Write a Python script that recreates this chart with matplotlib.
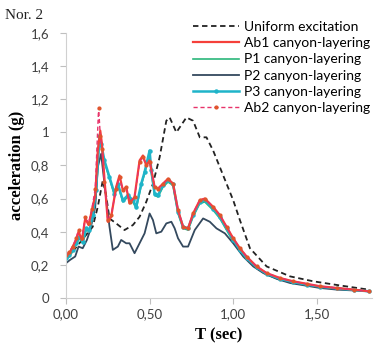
import matplotlib
matplotlib.use("Agg")
import matplotlib.pyplot as plt
from matplotlib.ticker import FixedLocator, FixedFormatter

# response spectra, period T (sec) vs spectral acceleration (g)
t_uniform = [0, 0.04, 0.08, 0.12, 0.16, 0.19, 0.22, 0.24, 0.26, 0.30, 0.35, 0.40, 0.44, 0.48,
             0.52, 0.56, 0.60, 0.62, 0.66, 0.70, 0.72, 0.76, 0.80, 0.84, 0.88, 0.92, 0.96,
             1.00, 1.04, 1.10, 1.20, 1.34, 1.48, 1.64, 1.81]
a_uniform = [0.25, 0.28, 0.33, 0.38, 0.43, 0.55, 0.71, 0.62, 0.48, 0.45, 0.41, 0.44, 0.49, 0.58,
             0.69, 0.85, 1.07, 1.09, 1.00, 1.06, 1.09, 1.07, 0.97, 0.97, 0.89, 0.79, 0.69,
             0.59, 0.47, 0.30, 0.19, 0.13, 0.10, 0.075, 0.05]

t_ab1 = [0, 0.02, 0.04, 0.06, 0.075, 0.095, 0.115, 0.135, 0.155, 0.175, 0.19, 0.205, 0.215,
         0.23, 0.25, 0.27, 0.30, 0.32, 0.34, 0.36, 0.38, 0.41, 0.44, 0.46, 0.48, 0.50, 0.53,
         0.55, 0.58, 0.61, 0.64, 0.67, 0.70, 0.73, 0.76, 0.80, 0.83, 0.88, 0.92, 0.96, 1.00,
         1.04, 1.08, 1.14, 1.20, 1.28, 1.36, 1.44, 1.52, 1.62, 1.72, 1.81]
a_ab1 = [0.26, 0.27, 0.31, 0.35, 0.40, 0.35, 0.48, 0.44, 0.53, 0.62, 0.89, 1.01, 0.93,
         0.72, 0.46, 0.49, 0.67, 0.74, 0.65, 0.67, 0.57, 0.61, 0.83, 0.86, 0.80, 0.83, 0.67,
         0.66, 0.69, 0.72, 0.69, 0.53, 0.43, 0.42, 0.51, 0.59, 0.60, 0.55, 0.50, 0.43, 0.36,
         0.30, 0.25, 0.19, 0.15, 0.12, 0.10, 0.085, 0.07, 0.06, 0.05, 0.04]

t_ab2 = [0, 0.02, 0.04, 0.06, 0.075, 0.095, 0.115, 0.135, 0.155, 0.175, 0.195, 0.205, 0.215,
         0.23, 0.25, 0.27, 0.30, 0.32, 0.34, 0.36, 0.38, 0.41, 0.44, 0.46, 0.48, 0.50, 0.53,
         0.55, 0.58, 0.61, 0.64, 0.67, 0.70, 0.73, 0.76, 0.80, 0.83, 0.88, 0.92, 0.96, 1.00,
         1.04, 1.08, 1.14, 1.20, 1.28, 1.36, 1.44, 1.52, 1.62, 1.72, 1.81]
a_ab2 = [0.26, 0.28, 0.31, 0.36, 0.41, 0.36, 0.49, 0.45, 0.54, 0.66, 1.15, 0.98, 0.90,
         0.70, 0.47, 0.50, 0.66, 0.73, 0.65, 0.67, 0.58, 0.61, 0.82, 0.85, 0.80, 0.82, 0.67,
         0.66, 0.69, 0.72, 0.69, 0.53, 0.43, 0.42, 0.51, 0.59, 0.60, 0.55, 0.50, 0.43, 0.36,
         0.30, 0.25, 0.19, 0.15, 0.12, 0.10, 0.085, 0.07, 0.06, 0.05, 0.04]

t_p = [0, 0.02, 0.04, 0.06, 0.08, 0.10, 0.12, 0.14, 0.16, 0.18, 0.20, 0.21, 0.23, 0.26,
       0.29, 0.31, 0.34, 0.37, 0.40, 0.42, 0.45, 0.47, 0.50, 0.51, 0.53, 0.55, 0.58, 0.61,
       0.64, 0.67, 0.70, 0.73, 0.76, 0.80, 0.83, 0.88, 0.92, 0.96, 1.00, 1.04, 1.08, 1.14,
       1.20, 1.28, 1.36, 1.44, 1.52, 1.62, 1.72, 1.81]
a_p1 = [0.23, 0.25, 0.28, 0.32, 0.36, 0.33, 0.41, 0.40, 0.49, 0.63, 0.95, 0.91, 0.82, 0.72,
        0.62, 0.68, 0.58, 0.61, 0.58, 0.54, 0.68, 0.75, 0.87, 0.76, 0.62, 0.61, 0.67, 0.70,
        0.68, 0.51, 0.42, 0.41, 0.49, 0.57, 0.58, 0.53, 0.48, 0.41, 0.34, 0.29, 0.24, 0.18,
        0.14, 0.11, 0.095, 0.08, 0.065, 0.055, 0.048, 0.04]
a_p3 = [0.24, 0.26, 0.29, 0.33, 0.37, 0.34, 0.42, 0.41, 0.50, 0.65, 0.98, 0.93, 0.83, 0.73,
        0.63, 0.69, 0.59, 0.62, 0.59, 0.55, 0.69, 0.76, 0.89, 0.77, 0.63, 0.62, 0.68, 0.71,
        0.69, 0.52, 0.43, 0.42, 0.50, 0.58, 0.59, 0.54, 0.49, 0.42, 0.35, 0.29, 0.24, 0.185,
        0.145, 0.115, 0.095, 0.08, 0.068, 0.057, 0.048, 0.04]

t_p2 = [0, 0.025, 0.055, 0.075, 0.10, 0.125, 0.145, 0.175, 0.19, 0.21, 0.23, 0.26, 0.28,
        0.31, 0.33, 0.36, 0.38, 0.41, 0.44, 0.47, 0.50, 0.52, 0.54, 0.57, 0.60, 0.63, 0.65,
        0.67, 0.70, 0.73, 0.77, 0.82, 0.86, 0.90, 0.95, 1.00, 1.06, 1.12, 1.18, 1.26, 1.34,
        1.43, 1.52, 1.62, 1.72, 1.81]
a_p2 = [0.21, 0.23, 0.25, 0.31, 0.30, 0.35, 0.41, 0.55, 0.79, 0.87, 0.69, 0.43, 0.29,
        0.31, 0.35, 0.33, 0.33, 0.27, 0.33, 0.39, 0.51, 0.47, 0.39, 0.40, 0.45, 0.46, 0.42,
        0.36, 0.31, 0.31, 0.41, 0.48, 0.46, 0.42, 0.39, 0.33, 0.25, 0.19, 0.15, 0.115, 0.09,
        0.075, 0.06, 0.05, 0.045, 0.04]

y_ticks = [0, 0.2, 0.4, 0.6, 0.8, 1.0, 1.2, 1.4, 1.6]
y_labels = ["0", "0,2", "0,4", "0,6", "0,8", "1", "1,2", "1,4", "1,6"]
x_ticks = [0, 0.5, 1.0, 1.5]
x_labels = ["0,00", "0,50", "1,00", "1,50"]

plt.rcParams["font.family"] = ["Lato", "DejaVu Sans"]

fig = plt.figure(figsize=(3.75, 3.44), dpi=100)
ax = fig.add_axes([0.176, 0.134, 0.816, 0.770])

ax.plot(t_uniform, a_uniform, color="#222222", lw=1.3, ls=(0, (3, 2)),
        label="Uniform excitation")
ax.plot(t_p, a_p1, color="#2BB67A", lw=1.2, label="P1 canyon-layering")
ax.plot(t_p2, a_p2, color="#34495E", lw=1.3, label="P2 canyon-layering")
ax.plot(t_p, a_p3, color="#1FB4C9", lw=1.8, marker="o", ms=2.2,
        label="P3 canyon-layering")
ax.plot(t_ab1, a_ab1, color="#F5403A", lw=1.6, label="Ab1 canyon-layering")
ax.plot(t_ab2, a_ab2, color="#E8336A", lw=1.0, ls=(0, (3, 2)), marker="o", ms=2.0,
        mfc="#E0552C", mec="#E0552C", label="Ab2 canyon-layering")

ax.set_xlim(0, 1.83)
ax.set_ylim(0, 1.6)
ax.xaxis.set_major_locator(FixedLocator(x_ticks))
ax.xaxis.set_major_formatter(FixedFormatter(x_labels))
ax.yaxis.set_major_locator(FixedLocator(y_ticks))
ax.yaxis.set_major_formatter(FixedFormatter(y_labels))
ax.tick_params(labelsize=9.5, colors="#BFBFBF", labelcolor="#404040", length=4)
ax.tick_params(axis="y", pad=8)
for side in ["top", "right"]:
    ax.spines[side].set_visible(False)
for side in ["left", "bottom"]:
    ax.spines[side].set_color("#D0D0D0")

ax.set_xlabel("T (sec)", family="Liberation Serif", fontweight="bold", fontsize=12,
              labelpad=5)
ax.set_ylabel("acceleration (g)", family="Liberation Serif", fontweight="bold",
              fontsize=12, labelpad=4)
fig.text(0.013, 0.975, "Nor. 2", family="Liberation Serif", fontsize=11,
         va="top", ha="left", color="#222222")

handles, labels = ax.get_legend_handles_labels()
order = [0, 4, 1, 2, 3, 5]
fig.legend([handles[i] for i in order], [labels[i] for i in order],
           loc="upper left", bbox_to_anchor=(0.5, 0.955), frameon=False,
           fontsize=10, handlelength=3.3, handletextpad=0.35, labelspacing=0.3,
           borderaxespad=0)

fig.savefig("out.png", dpi=100)
